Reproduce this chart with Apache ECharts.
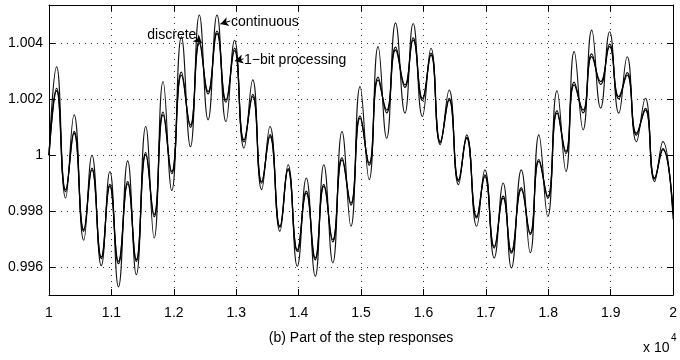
<!DOCTYPE html>
<html>
<head>
<meta charset="utf-8">
<style>
  html, body { margin: 0; padding: 0; background: #fff; }
  #echarts { width: 680px; height: 360px; }
</style>
<script src="https://cdn.jsdelivr.net/npm/echarts@6/dist/echarts.min.js"></script>
</head>
<body>
<div id="echarts"></div>
<script>
"use strict";

// 采样位置 (x 10^4)，每个点是一个峰或谷
var samples = [1.0000, 1.0122, 1.0266, 1.0402, 1.0556, 1.0688, 1.0838, 1.0975, 1.1113, 1.1261,
    1.1399, 1.1550, 1.1685, 1.1828, 1.1967, 1.2122, 1.2266, 1.2409, 1.2549, 1.2692,
    1.2835, 1.2973, 1.3124, 1.3264, 1.3407, 1.3541, 1.3700, 1.3831, 1.3979, 1.4122,
    1.4266, 1.4404, 1.4547, 1.4695, 1.4838, 1.4984, 1.5130, 1.5273, 1.5410, 1.5553,
    1.5703, 1.5835, 1.5983, 1.6121, 1.6269, 1.6412, 1.6561, 1.6693, 1.6852, 1.6984,
    1.7134, 1.7277, 1.7409, 1.7568, 1.7711, 1.7849, 1.7992, 1.8140, 1.8283, 1.8415,
    1.8558, 1.8696, 1.8839, 1.8983, 1.9130, 1.9264, 1.9412, 1.9555, 1.9703, 1.9836, 2.0000];

var continuous = [1.00000, 1.00317, 0.99847, 1.00145, 0.99696, 1.00000, 0.99605, 0.99942, 0.99529, 0.99980,
    0.99573, 1.00103, 0.99704, 1.00264, 0.99874, 1.00424, 1.00031, 1.00502, 1.00127, 1.00502,
    1.00121, 1.00412, 1.00026, 1.00270, 0.99877, 1.00103, 0.99728, 0.99966, 0.99603, 0.99919,
    0.99567, 0.99966, 0.99615, 1.00085, 0.99746, 1.00246, 0.99913, 1.00389, 1.00061, 1.00474,
    1.00151, 1.00472, 1.00139, 1.00383, 1.00038, 1.00234, 0.99895, 1.00073, 0.99746, 0.99948,
    0.99633, 0.99901, 0.99597, 0.99948, 0.99651, 1.00073, 0.99781, 1.00231, 0.99942, 1.00371,
    1.00091, 1.00448, 1.00169, 1.00442, 1.00151, 1.00353, 1.00049, 1.00204, 0.99906, 1.00049, 0.99770];

var discrete = [1.00000, 1.00231, 0.99877, 1.00079, 0.99734, 0.99948, 0.99636, 0.99889, 0.99620, 0.99898,
    0.99627, 1.00002, 0.99788, 1.00145, 0.99942, 1.00287, 1.00109, 1.00401, 1.00228, 1.00436,
    1.00198, 1.00375, 1.00055, 1.00210, 0.99906, 1.00067, 0.99746, 0.99948, 0.99662, 0.99865,
    0.99633, 0.99889, 0.99698, 0.99984, 0.99829, 1.00133, 0.99972, 1.00270, 1.00162, 1.00377,
    1.00252, 1.00412, 1.00204, 1.00359, 1.00049, 1.00198, 0.99912, 1.00061, 0.99781, 0.99924,
    0.99674, 0.99847, 0.99656, 0.99877, 0.99722, 0.99978, 0.99853, 1.00151, 1.00014, 1.00252,
    1.00162, 1.00353, 1.00264, 1.00389, 1.00210, 1.00287, 1.00079, 1.00162, 0.99919, 1.00020, 0.99794];

var oneBit = [1.00000, 1.00240, 0.99870, 1.00086, 0.99728, 0.99954, 0.99630, 0.99896, 0.99612, 0.99906,
    0.99620, 1.00010, 0.99780, 1.00155, 0.99934, 1.00298, 1.00100, 1.00410, 1.00220, 1.00445,
    1.00190, 1.00384, 1.00048, 1.00218, 0.99900, 1.00074, 0.99742, 0.99952, 0.99656, 0.99872,
    0.99626, 0.99896, 0.99690, 0.99992, 0.99822, 1.00141, 0.99964, 1.00280, 1.00152, 1.00387,
    1.00243, 1.00420, 1.00196, 1.00366, 1.00044, 1.00204, 0.99907, 1.00064, 0.99775, 0.99930,
    0.99668, 0.99854, 0.99650, 0.99884, 0.99716, 0.99985, 0.99846, 1.00160, 1.00006, 1.00262,
    1.00152, 1.00363, 1.00254, 1.00398, 1.00202, 1.00296, 1.00072, 1.00168, 0.99915, 1.00024, 0.99790];

var yTicks = [0.996, 0.998, 1, 1.002, 1.004];

var FONT = "'Liberation Sans', Arial, sans-serif";

function pairs(xs, ys){
    var out = [];
    for(var i=0;i<xs.length;i++){
        out.push([xs[i], ys[i]]);
    }
    return out;
}

// 注释文字 + 箭头
function note(text, textAt, side, from, to){
    return {
        markPoint: {
            symbol: 'circle',
            symbolSize: 1,
            itemStyle: { color: 'rgba(0,0,0,0)' },
            label: {
                show: true, position: side, distance: 0,
                color: '#000', fontSize: 14, fontFamily: FONT,
                formatter: text
            },
            data: [{ coord: textAt }]
        },
        markLine: {
            silent: true,
            symbol: ['none', 'arrow'],
            symbolSize: [7, 8],
            label: { show: false },
            lineStyle: { color: '#000', width: 1, type: 'solid' },
            data: [[{ coord: from }, { coord: to }]]
        }
    };
}

var myChart = echarts.init(document.getElementById('echarts'), null, { renderer: 'canvas' });

var axisBox = {
    axisLine: { show: true, onZero: false, lineStyle: { color: '#000', width: 1 } },
    axisTick: { show: true, inside: true, length: 6, lineStyle: { color: '#000' } }
};

var option = {
    animation: false,
    backgroundColor: '#fff',
    grid: { left: 49, right: 2, top: 5, bottom: 65, containLabel: false },
    xAxis: [
        {
            type: 'value', min: 1, max: 2, interval: 0.1, position: 'bottom',
            axisLine: axisBox.axisLine, axisTick: axisBox.axisTick,
            axisLabel: {
                color: '#000', fontSize: 14, fontFamily: FONT, margin: 11,
                formatter: function(v){ return String(+v.toFixed(1)); }
            },
            splitLine: { show: true, lineStyle: { color: '#333', width: 1, type: [1, 5] } },
            name: '(b) Part of the step responses',
            nameLocation: 'middle', nameGap: 36,
            nameTextStyle: { color: '#000', fontSize: 14, fontFamily: FONT }
        },
        {
            type: 'value', min: 1, max: 2, interval: 0.1, position: 'top',
            axisLine: axisBox.axisLine, axisTick: axisBox.axisTick,
            axisLabel: { show: false }, splitLine: { show: false }
        }
    ],
    yAxis: [
        {
            type: 'value', min: 0.995, max: 1.00538, position: 'left',
            axisLine: axisBox.axisLine,
            axisTick: { show: true, inside: true, length: 6, lineStyle: { color: '#000' }, customValues: yTicks },
            axisLabel: {
                color: '#000', fontSize: 14, fontFamily: FONT, margin: 6,
                customValues: yTicks,
                formatter: function(v){ return String(+(+v).toFixed(3)); }
            },
            splitLine: { show: true, lineStyle: { color: '#333', width: 1, type: [1, 5] } }
        },
        {
            type: 'value', min: 0.995, max: 1.00538, position: 'right',
            axisLine: axisBox.axisLine,
            axisTick: { show: true, inside: true, length: 6, lineStyle: { color: '#000' }, customValues: yTicks },
            axisLabel: { show: false, customValues: yTicks }, splitLine: { show: false }
        }
    ],
    graphic: [
        { type: 'text', left: 643, top: 341, style: { text: 'x 10', fill: '#000', font: "14px " + FONT } },
        { type: 'text', left: 671, top: 333, style: { text: '4', fill: '#000', font: "10px " + FONT } }
    ],
    series: [
        Object.assign({
            name: 'continuous', type: 'line', xAxisIndex: 0, yAxisIndex: 0,
            showSymbol: false, symbol: 'none', smooth: 0.5,
            lineStyle: { color: '#111', width: 1.1 },
            data: pairs(samples, continuous)
        }, note('continuous', [1.2909, 1.00477], 'right', [1.2905, 1.00481], [1.2746, 1.00470])),
        Object.assign({
            name: 'discrete', type: 'line', xAxisIndex: 0, yAxisIndex: 0,
            showSymbol: false, symbol: 'none', smooth: 0.5,
            lineStyle: { color: '#000', width: 1.3 },
            data: pairs(samples, discrete)
        }, note('discrete', [1.2369, 1.00430], 'left', [1.2337, 1.00423], [1.2448, 1.00402])),
        Object.assign({
            name: '1-bit processing', type: 'line', xAxisIndex: 0, yAxisIndex: 0,
            showSymbol: false, symbol: 'none', smooth: 0.5,
            lineStyle: { color: '#000', width: 1.2 },
            data: pairs(samples, oneBit)
        }, note('1\u2212bit processing', [1.3116, 1.00341], 'right', [1.3116, 1.00345], [1.2981, 1.00338]))
    ]
};

myChart.setOption(option, true);
</script>
</body>
</html>
